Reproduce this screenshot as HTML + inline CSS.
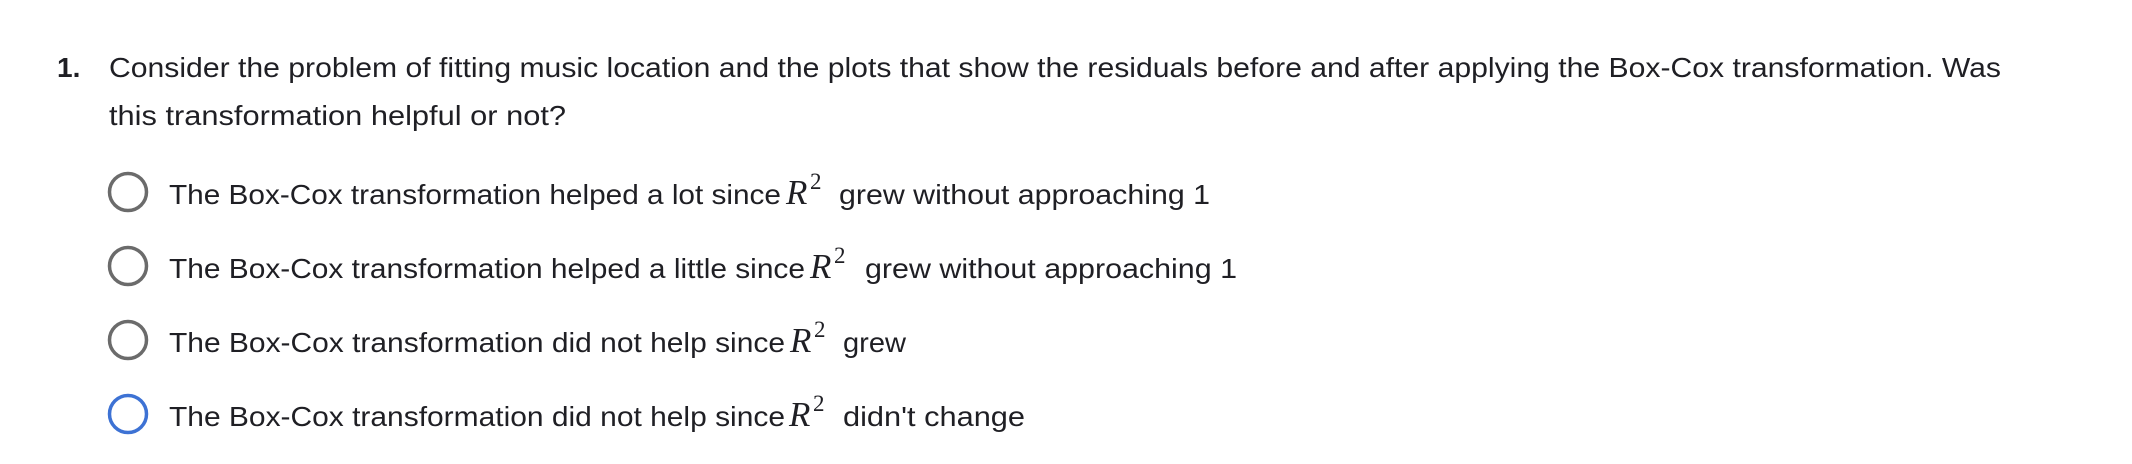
<!DOCTYPE html>
<html><head><meta charset="utf-8"><style>
html,body{margin:0;padding:0;background:#fff;}
svg{display:block}
text{font-family:"Liberation Sans",sans-serif;font-size:28px;fill:#1f1f24;}
.r{font-family:"Liberation Serif",serif;font-style:italic;font-size:35px;}
.s{font-family:"Liberation Serif",serif;font-size:23px;}
</style></head><body>
<svg width="2132" height="464" viewBox="0 0 2132 464">
<text x="57" y="77" font-weight="bold">1.</text>
<text x="109" y="77" textLength="1892" lengthAdjust="spacingAndGlyphs">Consider the problem of fitting music location and the plots that show the residuals before and after applying the Box-Cox transformation. Was</text>
<text x="109" y="125" textLength="457" lengthAdjust="spacingAndGlyphs">this transformation helpful or not?</text>

<circle cx="128" cy="192" r="18.5" fill="none" stroke="#6b6b6b" stroke-width="3.5"/>
<text x="169" y="204" textLength="612" lengthAdjust="spacingAndGlyphs">The Box-Cox transformation helped a lot since</text>
<text class="r" x="786" y="204">R</text><text class="s" x="810" y="189">2</text>
<text x="839" y="204" textLength="371" lengthAdjust="spacingAndGlyphs">grew without approaching 1</text>

<circle cx="128" cy="266" r="18.5" fill="none" stroke="#6b6b6b" stroke-width="3.5"/>
<text x="169" y="278" textLength="636" lengthAdjust="spacingAndGlyphs">The Box-Cox transformation helped a little since</text>
<text class="r" x="810" y="278">R</text><text class="s" x="834" y="263">2</text>
<text x="865" y="278" textLength="372" lengthAdjust="spacingAndGlyphs">grew without approaching 1</text>

<circle cx="128" cy="340" r="18.5" fill="none" stroke="#6b6b6b" stroke-width="3.5"/>
<text x="169" y="352" textLength="616" lengthAdjust="spacingAndGlyphs">The Box-Cox transformation did not help since</text>
<text class="r" x="790" y="352">R</text><text class="s" x="814" y="337">2</text>
<text x="843" y="352" textLength="63" lengthAdjust="spacingAndGlyphs">grew</text>

<circle cx="128" cy="414" r="18.5" fill="none" stroke="#3d72d4" stroke-width="3.5"/>
<text x="169" y="426" textLength="616" lengthAdjust="spacingAndGlyphs">The Box-Cox transformation did not help since</text>
<text class="r" x="789" y="426">R</text><text class="s" x="813" y="411">2</text>
<text x="843" y="426" textLength="182" lengthAdjust="spacingAndGlyphs">didn't change</text>
</svg>
</body></html>
